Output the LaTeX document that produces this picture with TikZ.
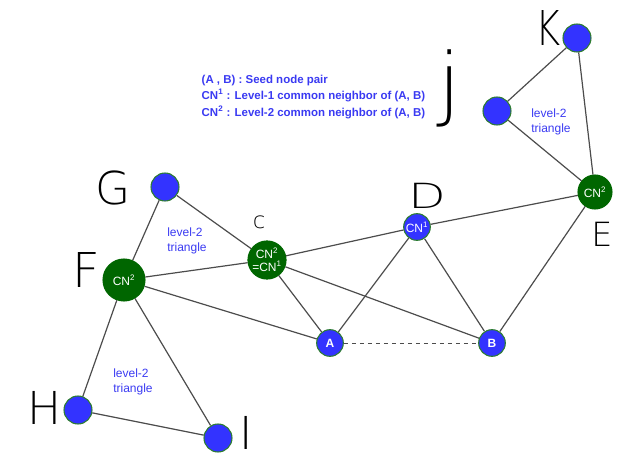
\documentclass[tikz,border=0pt]{standalone}
\usepackage{fontspec}
\setsansfont{Liberation Sans}
\newfontfamily\handfont{DejaVu Sans ExtraLight}
\definecolor{nodeblue}{HTML}{3333FF}
\definecolor{cngreen}{HTML}{006600}
\definecolor{rimgreen}{HTML}{2E7D32}
\definecolor{labelblue}{HTML}{3A3AF2}

\begin{document}
\begin{tikzpicture}[x=0.75pt,y=-0.75pt,font=\sffamily,
  vtx/.style={circle,fill=nodeblue,draw=rimgreen,line width=0.8pt,minimum size=21pt,inner sep=0pt,text=white,font=\sffamily\bfseries\small},
  cnode/.style={vtx,fill=cngreen,draw=cngreen,font=\sffamily\small},
  link/.style={draw=black!70,line width=0.9pt},
  tri/.style={text=labelblue,align=left,font=\sffamily\small},
  hand/.style={font=\handfont\fontsize{#1}{#1}\selectfont}]
\useasboundingbox (0,0) rectangle (633,471);
% legend
\node[anchor=west,text=labelblue,font=\sffamily\bfseries\fontsize{8.6}{12.4}\selectfont,align=left] (legend) at (197,97)
  {(A , B) : Seed node pair\\CN\textsuperscript{1} : Level-1 common neighbor of (A, B)\\CN\textsuperscript{2} : Level-2 common neighbor of (A, B)};
% vertices
\node[vtx] (K) at (577,38) {}; \node[vtx] (J) at (497,111) {};
\node[cnode,minimum size=25.5pt] (E) at (595,192) {CN\textsuperscript{2}};
\node[vtx,minimum size=20pt,font=\sffamily\small] (D) at (417,227) {CN\textsuperscript{1}};
\node[cnode,minimum size=28.5pt,align=center] (C) at (267,260) {CN\textsuperscript{2}\\[-1pt]{}=CN\textsuperscript{1}};
\node[vtx] (G) at (165,187) {}; \node[cnode,minimum size=31.5pt] (F) at (124,280) {CN\textsuperscript{2}};
\node[vtx,minimum size=20pt] (A) at (330,343) {A}; \node[vtx,minimum size=20pt] (B) at (492,343) {B};
\node[vtx] (H) at (78,410) {}; \node[vtx] (I) at (218,438) {};
% edges
\foreach \u/\v in {K/J,K/E,J/E,E/D,E/B,D/C,D/A,D/B,C/G,C/F,C/A,C/B,G/F,F/A,F/H,F/I,H/I}{\draw[link] (\u)--(\v);}
\draw[link,dashed,line width=0.7pt] (A)--(B);
% triangle labels
\node[tri] (t1) at (187,241) {level-2\\triangle};
\node[tri] (t2) at (133,382) {level-2\\triangle};
\node[tri] (t3) at (551,122) {level-2\\triangle};
% handwritten names
\node[hand=34] (lG) at (113,188) {G}; \node[hand=17] (lC) at (259,222) {c};
\node[hand=36] (lF) at (86,270) {F}; \node[hand=26,xscale=1.4] (lD) at (427,196) {D};
\node[hand=25] (lE) at (602,234) {E}; \node[hand=34] (lH) at (45,408) {H};
\node[hand=34] (lI) at (246,433) {I}; \node[hand=60] (lJ) at (450,88) {j};
\node[hand=36,xscale=0.8] (lK) at (548,28) {K};
\end{tikzpicture}
\end{document}
